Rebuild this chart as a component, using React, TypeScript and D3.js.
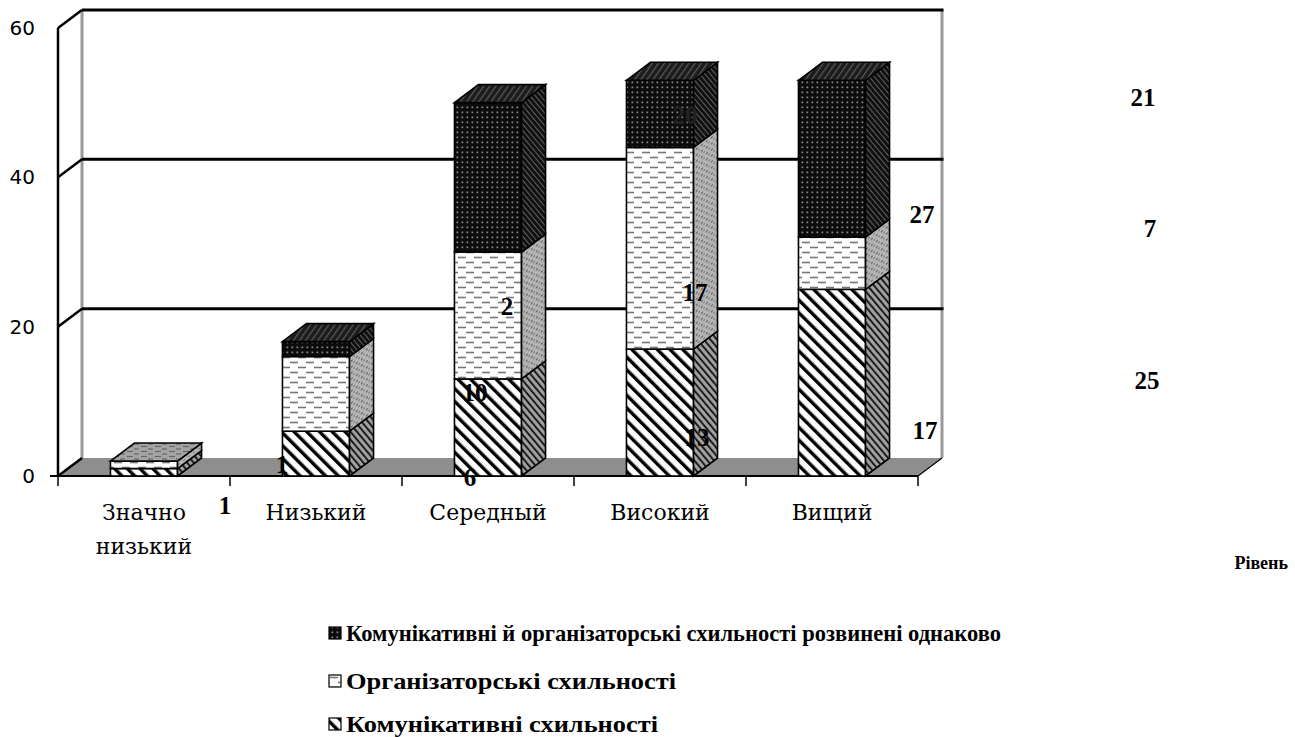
import React from "react";
import * as d3 from "d3";

// Levels on the x axis
const categories = ["Значно низький", "Низький", "Середный", "Високий", "Вищий"];
// Stacked series, bottom to top
const komunikatyvni = [1, 6, 13, 17, 25];
const orhanizatorski = [1, 10, 17, 27, 7];
const odnakovo = [0, 2, 20, 9, 21];
const seriesKeys = ["kom", "org", "both"];
const seriesNames = [
  "Комунікативні схильності",
  "Організаторські схильності",
  "Комунікативні й організаторські схильності розвинені однаково",
];
const yTicks = [0, 20, 40, 60];

// Data-label nudges (dx, dy) per series and category, and labels not shown
const labelNudge = [
  [[-25, 14], [-5, 10], [-3, 2], [0, 14], [-3, 2]],
  [[32, -17], [0, 0], [-5, -2], [-3, 4], [0, -1]],
  [[0, 0], [32, -30], [-15, -6], [0, 0], [-7, 0]],
];
const labelHidden = [
  [false, false, false, false, false],
  [false, false, false, false, false],
  [true, false, false, true, false],
];

const W = 1295;
const H = 737;
const DX = 24;
const DY = -18;

export default function App() {
  const x = d3
    .scaleBand<string>()
    .domain(categories)
    .range([58, 918])
    .paddingInner(0.61)
    .paddingOuter(0.305);
  const y = d3.scaleLinear().domain([0, 60]).range([476, 28]);
  const labelX = d3.scaleLinear().domain([0, categories.length - 1]).range([250, 1150]);
  const labelY = d3.scaleLinear().domain([0, 60]).range([496, -66]);

  const rows = categories.map((c, i) => ({
    cat: c,
    kom: komunikatyvni[i],
    org: orhanizatorski[i],
    both: odnakovo[i],
  }));
  const stacked = d3.stack<any>().keys(seriesKeys)(rows);

  const bw = x.bandwidth();
  const [xl, xr] = x.range();
  const yBase = y(0);
  const yTop = y(60);

  const poly = (pts: number[][]) => "M" + pts.map((p) => p.join(",")).join("L") + "Z";

  const bars = categories.map((cat, ci) => {
    const bx = x(cat)!;
    const segs: JSX.Element[] = [];
    let topKey = -1;
    let topY = yBase;
    stacked.forEach((layer, si) => {
      const d = layer[ci];
      if (d[1] - d[0] <= 0) return;
      const yb = y(d[0]);
      const yt = y(d[1]);
      topKey = si;
      topY = yt;
      segs.push(
        <g key={si}>
          <rect x={bx} y={yt} width={bw} height={yb - yt} fill={`url(#front-${si})`} stroke="#000" strokeWidth={1.6} />
          <path
            d={poly([
              [bx + bw, yb],
              [bx + bw + DX, yb + DY],
              [bx + bw + DX, yt + DY],
              [bx + bw, yt],
            ])}
            fill={`url(#side-${si})`}
            stroke="#000"
            strokeWidth={1.6}
          />
        </g>
      );
    });
    if (topKey >= 0) {
      segs.push(
        <path
          key="top"
          d={poly([
            [bx, topY],
            [bx + DX, topY + DY],
            [bx + bw + DX, topY + DY],
            [bx + bw, topY],
          ])}
          fill={`url(#top-${topKey})`}
          stroke="#000"
          strokeWidth={1.6}
        />
      );
    }
    return <g key={cat}>{segs}</g>;
  });

  const labels: JSX.Element[] = [];
  stacked.forEach((layer, si) => {
    layer.forEach((d, ci) => {
      const v = d[1] - d[0];
      if (v <= 0 || labelHidden[si][ci]) return;
      const [ndx, ndy] = labelNudge[si][ci];
      labels.push(
        <text
          key={`${si}-${ci}`}
          x={labelX(ci) + ndx}
          y={labelY((d[0] + d[1]) / 2) + ndy}
          textAnchor="middle"
          dominantBaseline="central"
          fontFamily="'Liberation Serif', serif"
          fontWeight="bold"
          fontSize={25}
          fill={si === 2 && ci === 2 ? "#222" : "#000"}
        >
          {v}
        </text>
      );
    });
  });

  const legendOrder = [2, 1, 0];
  const legendY = [633, 681, 724];
  const legendWidths = [655, 330, 312];

  return (
    <svg
      width={W}
      height={H}
      style={{ position: "absolute", left: 0, top: 0, background: "#fff" }}
    >
      <defs>
        {/* Communicative: diagonal hatching */}
        <pattern id="front-0" width={9} height={9} patternUnits="userSpaceOnUse" patternTransform="rotate(-45)">
          <rect width={9} height={9} fill="#fff" />
          <rect width={3.4} height={9} fill="#000" />
        </pattern>
        <pattern id="side-0" width={5} height={5} patternUnits="userSpaceOnUse" patternTransform="rotate(-40)">
          <rect width={5} height={5} fill="#a0a0a0" />
          <rect width={1.8} height={5} fill="#111" />
        </pattern>
        <pattern id="top-0" width={8} height={8} patternUnits="userSpaceOnUse" patternTransform="rotate(-45)">
          <rect width={8} height={8} fill="#a8a8a8" />
          <rect width={2.5} height={8} fill="#222" />
        </pattern>
        {/* Organisational: dashed lines */}
        <pattern id="front-1" width={16} height={10} patternUnits="userSpaceOnUse">
          <rect width={16} height={10} fill="#fff" />
          <line x1={2} y1={2.5} x2={10} y2={2.5} stroke="#777" strokeWidth={1.6} />
          <line x1={10} y1={7.5} x2={16} y2={7.5} stroke="#777" strokeWidth={1.6} />
          <line x1={0} y1={7.5} x2={2} y2={7.5} stroke="#777" strokeWidth={1.6} />
        </pattern>
        <pattern id="side-1" width={5} height={6} patternUnits="userSpaceOnUse" patternTransform="skewY(-37)">
          <rect width={5} height={6} fill="#b4b4b4" />
          <rect x={1} y={1} width={1.6} height={1.6} fill="#555" />
          <rect x={3.4} y={4} width={1.4} height={1.4} fill="#666" />
        </pattern>
        <pattern id="top-1" width={14} height={5} patternUnits="userSpaceOnUse">
          <rect width={14} height={5} fill="#a4a4a4" />
          <line x1={1} y1={1.5} x2={7} y2={1.5} stroke="#666" strokeWidth={1.2} />
          <line x1={8} y1={4} x2={13} y2={4} stroke="#666" strokeWidth={1.2} />
        </pattern>
        {/* Both equally developed: dark dotted */}
        <pattern id="front-2" width={5} height={5} patternUnits="userSpaceOnUse">
          <rect width={5} height={5} fill="#0c0c0c" />
          <rect x={1.5} y={1.5} width={1.7} height={1.7} fill="#8a8a8a" />
        </pattern>
        <pattern id="side-2" width={4} height={4} patternUnits="userSpaceOnUse" patternTransform="rotate(-40)">
          <rect width={4} height={4} fill="#111" />
          <rect width={1} height={4} fill="#606060" />
        </pattern>
        <pattern id="top-2" width={5} height={5} patternUnits="userSpaceOnUse" patternTransform="rotate(35)">
          <rect width={5} height={5} fill="#1c1c1c" />
          <rect width={1.2} height={5} fill="#5a5a5a" />
        </pattern>
      </defs>

      {/* Floor */}
      <path
        d={poly([
          [xl, yBase],
          [xl + DX, yBase + DY],
          [xr + DX, yBase + DY],
          [xr, yBase],
        ])}
        fill="#8e8e8e"
      />
      {/* Back wall edges */}
      <line x1={xl + DX} y1={yTop + DY} x2={xl + DX} y2={yBase + DY} stroke="#999" strokeWidth={3} />
      <line x1={xr + DX} y1={yTop + DY} x2={xr + DX} y2={yBase + DY} stroke="#999" strokeWidth={3} />
      {/* Gridlines on back wall and left wall */}
      {yTicks.map((t) => (
        <g key={t}>
          {t > 0 && (
            <line x1={xl + DX} y1={y(t) + DY} x2={xr + DX + 1.5} y2={y(t) + DY} stroke="#000" strokeWidth={3} />
          )}
          <line x1={xl} y1={y(t)} x2={xl + DX} y2={y(t) + DY} stroke="#000" strokeWidth={2.5} />
          <text
            x={35}
            y={y(t)}
            textAnchor="end"
            dominantBaseline="central"
            fontFamily="'DejaVu Sans', sans-serif"
            fontSize={20}
            fill="#000"
          >
            {t}
          </text>
        </g>
      ))}
      {/* Y axis */}
      <line x1={xl} y1={yTop} x2={xl} y2={yBase} stroke="#000" strokeWidth={2.5} />
      {/* X axis and floor edge */}
      <line x1={xl - 8} y1={yBase} x2={xr} y2={yBase} stroke="#000" strokeWidth={2} />
      <line x1={xr} y1={yBase} x2={xr + DX} y2={yBase + DY} stroke="#000" strokeWidth={1.2} />
      {d3.range(categories.length + 1).map((i) => {
        const tx = xl + x.step() * i;
        return <line key={i} x1={tx} y1={yBase} x2={tx} y2={yBase + 10} stroke="#000" strokeWidth={1.5} />;
      })}

      {bars}

      {/* Category labels */}
      {categories.map((c) => {
        const cx = x(c)! + bw / 2;
        const words = c.split(" ");
        return (
          <text
            key={c}
            x={cx}
            y={512}
            textAnchor="middle"
            dominantBaseline="central"
            fontFamily="'DejaVu Serif', serif"
            fontSize={22}
            fill="#000"
          >
            {words.map((w, k) => (
              <tspan key={k} x={cx} dy={k === 0 ? 0 : 34}>
                {w}
              </tspan>
            ))}
          </text>
        );
      })}

      {labels}

      <text
        x={1288}
        y={563}
        textAnchor="end"
        dominantBaseline="central"
        fontFamily="'Liberation Serif', serif"
        fontWeight="bold"
        fontSize={18}
      >
        Рівень
      </text>

      {/* Legend */}
      {legendOrder.map((si, k) => (
        <g key={si}>
          <rect
            x={329}
            y={legendY[k] - 6}
            width={12}
            height={12}
            fill={`url(#front-${si})`}
            stroke="#000"
            strokeWidth={1.2}
          />
          <text
            x={346}
            y={legendY[k]}
            dominantBaseline="central"
            fontFamily="'Liberation Serif', serif"
            fontWeight="bold"
            fontSize={23}
            textLength={legendWidths[k]}
            lengthAdjust="spacingAndGlyphs"
          >
            {seriesNames[si]}
          </text>
        </g>
      ))}
    </svg>
  );
}
